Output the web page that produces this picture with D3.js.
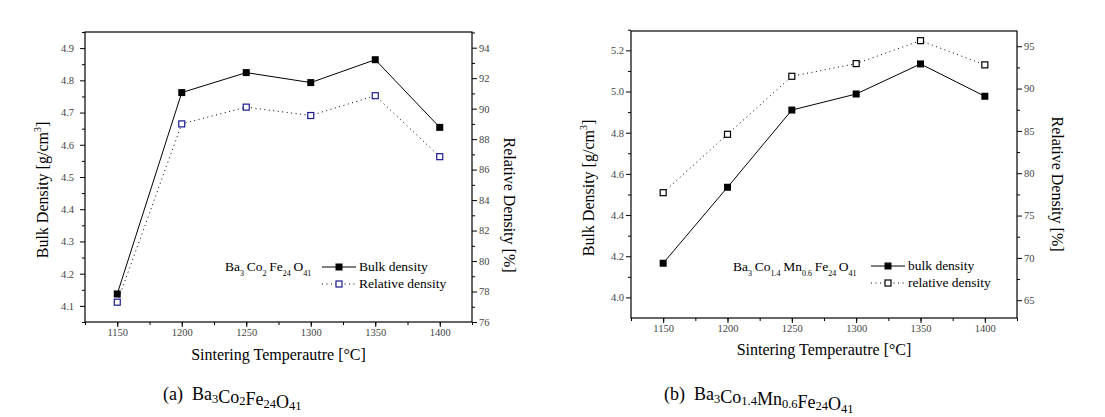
<!DOCTYPE html>
<html><head><meta charset="utf-8">
<script src="https://cdn.jsdelivr.net/npm/d3@7"></script>
<style>body{margin:0;background:#fff}svg{display:block}text{font-family:"Liberation Serif","Times New Roman",serif}</style>
</head><body><svg id="c" width="1105" height="417"></svg>
<script>
const temps = [1150, 1200, 1250, 1300, 1350, 1400];
const xTicks = [1150, 1200, 1250, 1300, 1350, 1400];
// panel (a) Ba3Co2Fe24O41
const bulkA = [4.137, 4.762, 4.824, 4.793, 4.864, 4.654];
const relA = [77.3, 89.0, 90.1, 89.55, 90.85, 86.85];
const leftTicksA = [4.1, 4.2, 4.3, 4.4, 4.5, 4.6, 4.7, 4.8, 4.9];
const rightTicksA = [76, 78, 80, 82, 84, 86, 88, 90, 92, 94];
// panel (b) Ba3Co1.4Mn0.6Fe24O41
const bulkB = [4.166, 4.535, 4.91, 4.988, 5.134, 4.977];
const relB = [77.7, 84.6, 91.45, 92.95, 95.66, 92.8];
const leftTicksB = [4.0, 4.2, 4.4, 4.6, 4.8, 5.0, 5.2];
const rightTicksB = [65, 70, 75, 80, 85, 90, 95];

const svg = d3.select("#c");

function panel(cfg) {
  const g = svg.append("g");
  const x = d3.scaleLinear().domain([1125, 1425]).range([cfg.x0, cfg.x1]);
  const yL = d3.scaleLinear().domain(cfg.yLdom).range([cfg.y1, cfg.y0]);
  const yR = d3.scaleLinear().domain(cfg.yRdom).range([cfg.y1, cfg.y0]);
  const lab = s => s.selectAll("text").attr("font-size", 10.5).attr("fill", "#444")
    .style("font-family", "'Liberation Serif', serif");
  const dom = s => s.select(".domain").remove();

  // minor ticks
  g.append("g").attr("transform", `translate(0,${cfg.y1})`)
    .call(d3.axisBottom(x).tickValues(d3.range(1125, 1426, 25)).tickSize(3).tickFormat(""))
    .call(dom);
  g.append("g").attr("transform", `translate(${cfg.x0},0)`)
    .call(d3.axisLeft(yL).tickValues(cfg.leftMinor).tickSize(3).tickFormat("")).call(dom);
  g.append("g").attr("transform", `translate(${cfg.x1},0)`)
    .call(d3.axisRight(yR).tickValues(cfg.rightMinor).tickSize(3).tickFormat("")).call(dom);
  // major ticks
  g.append("g").attr("transform", `translate(0,${cfg.y1})`)
    .call(d3.axisBottom(x).tickValues(xTicks).tickSize(5).tickPadding(2).tickFormat(d3.format("d")))
    .call(dom).call(lab);
  g.append("g").attr("transform", `translate(${cfg.x0},0)`)
    .call(d3.axisLeft(yL).tickValues(cfg.leftTicks).tickSize(5).tickPadding(cfg.lpad).tickFormat(d3.format(".1f")))
    .call(dom).call(lab);
  g.append("g").attr("transform", `translate(${cfg.x1},0)`)
    .call(d3.axisRight(yR).tickValues(cfg.rightTicks).tickSize(5).tickPadding(2).tickFormat(d3.format("d")))
    .call(dom).call(lab);
  g.selectAll(".tick line").attr("stroke", "#000");

  // frame
  g.append("rect").attr("x", cfg.x0).attr("y", cfg.y0).attr("width", cfg.x1 - cfg.x0)
    .attr("height", cfg.y1 - cfg.y0).attr("fill", "none").attr("stroke", "#000").attr("stroke-width", 1.2);

  // lines
  g.append("path").datum(temps.map((t, i) => [x(t), yR(cfg.rel[i])]))
    .attr("d", d3.line()).attr("fill", "none").attr("stroke", "#000").attr("stroke-width", 1)
    .attr("stroke-dasharray", "1,3.5");
  g.append("path").datum(temps.map((t, i) => [x(t), yL(cfg.bulk[i])]))
    .attr("d", d3.line()).attr("fill", "none").attr("stroke", "#000").attr("stroke-width", 1);
  // markers
  g.selectAll(".rm").data(temps).enter().append("rect")
    .attr("x", d => x(d) - 3).attr("y", (d, i) => yR(cfg.rel[i]) - 3)
    .attr("width", 6).attr("height", 6).attr("fill", "#fff").attr("stroke", cfg.hollow).attr("stroke-width", 1.2);
  g.selectAll(".bm").data(temps).enter().append("rect")
    .attr("x", d => x(d) - 3.5).attr("y", (d, i) => yL(cfg.bulk[i]) - 3.5)
    .attr("width", 7).attr("height", 7).attr("fill", "#000");

  // axis titles
  g.append("text").attr("x", (cfg.x0 + cfg.x1) / 2).attr("y", cfg.xTitleY).attr("text-anchor", "middle")
    .attr("font-size", 16).text("Sintering Temperautre [\u00B0C]");
  const lt = g.append("text").attr("transform", `translate(${cfg.lTitleX},${cfg.lTitleY}) rotate(-90)`)
    .attr("text-anchor", "middle").attr("font-size", 16);
  lt.append("tspan").text("Bulk Density [g/cm");
  lt.append("tspan").attr("font-size", 10).attr("dy", -7).text("3");
  lt.append("tspan").attr("dy", 7).text("]");
  g.append("text").attr("transform", `translate(${cfg.rTitleX},${cfg.rTitleY}) rotate(90)`)
    .attr("text-anchor", "middle").attr("font-size", 16).text("Relative Density [%]");

  // formula annotation
  const f = g.append("text").attr("x", cfg.fx).attr("y", cfg.fy).attr("font-size", 13.5);
  cfg.formula.forEach(p => {
    f.append("tspan").attr("dy", 0).text(p[0]);
    if (p[1]) {
      f.append("tspan").attr("font-size", 8).attr("dy", 5).text(p[1]);
      f.append("tspan").attr("dy", -5).text("\u2009");
    }
  });
  // legend
  const lx = cfg.lx, ly = cfg.ly;
  g.append("line").attr("x1", lx).attr("x2", lx + 34).attr("y1", ly).attr("y2", ly).attr("stroke", "#000");
  g.append("rect").attr("x", lx + 13.5).attr("y", ly - 3.5).attr("width", 7).attr("height", 7).attr("fill", "#000");
  g.append("text").attr("x", lx + 37).attr("y", ly + 4).attr("font-size", 13.5).text(cfg.leg[0]);
  g.append("line").attr("x1", lx).attr("x2", lx + 34).attr("y1", ly + 17).attr("y2", ly + 17)
    .attr("stroke", "#000").attr("stroke-dasharray", "1,3.5");
  g.append("rect").attr("x", lx + 14).attr("y", ly + 14).attr("width", 6).attr("height", 6)
    .attr("fill", "#fff").attr("stroke", cfg.hollow).attr("stroke-width", 1.2);
  g.append("text").attr("x", lx + 37).attr("y", ly + 21).attr("font-size", 13.5).text(cfg.leg[1]);

  // caption
  const c = g.append("text").attr("x", cfg.cx).attr("y", 400).attr("font-size", 18);
  c.append("tspan").text(cfg.cap + "\u00A0\u00A0");
  cfg.formula.forEach(p => {
    c.append("tspan").text(p[0]);
    if (p[1]) {
      c.append("tspan").attr("font-size", 12.5).attr("dy", 2.5).text(p[1]);
      c.append("tspan").attr("dy", -2.5).text("");
    }
  });
}

panel({
  x0: 85, x1: 472, y0: 32, y1: 322,
  yLdom: [4.05, 4.95], yRdom: [76, 95.03],
  leftTicks: leftTicksA, rightTicks: rightTicksA,
  leftMinor: d3.range(4.05, 4.951, 0.1), rightMinor: d3.range(77, 95.1, 2),
  lpad: 6, bulk: bulkA, rel: relA, hollow: "#1a1a8c",
  xTitleY: 360, lTitleX: 48, lTitleY: 190, rTitleX: 504, rTitleY: 205,
  fx: 225, fy: 271, formula: [["Ba", "3"], ["Co", "2"], ["Fe", "24"], ["O", "41"]],
  lx: 322, ly: 267, leg: ["Bulk density", "Relative density"],
  cx: 163, cap: "(a)"
});
panel({
  x0: 631, x1: 1017, y0: 31, y1: 318,
  yLdom: [3.9, 5.294], yRdom: [62.9, 96.8],
  leftTicks: leftTicksB, rightTicks: rightTicksB,
  leftMinor: d3.range(4.1, 5.3, 0.2), rightMinor: d3.range(67.5, 96, 5),
  lpad: 2, bulk: bulkB, rel: relB, hollow: "#000",
  xTitleY: 355, lTitleX: 594, lTitleY: 188, rTitleX: 1052, rTitleY: 184,
  fx: 733, fy: 271, formula: [["Ba", "3"], ["Co", "1.4"], ["Mn", "0.6"], ["Fe", "24"], ["O", "41"]],
  lx: 871, ly: 266, leg: ["bulk density", "relative density"],
  cx: 664, cap: "(b)"
});
</script></body></html>
